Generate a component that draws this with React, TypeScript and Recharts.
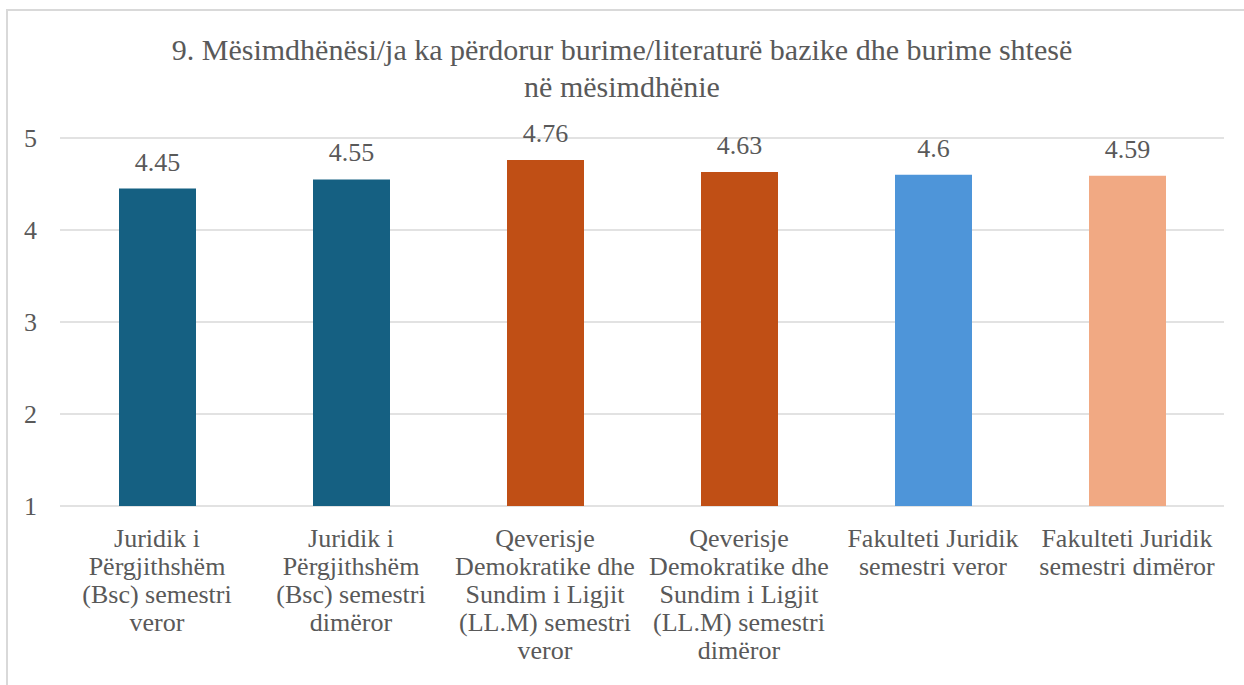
import React from 'react'
import {
  BarChart,
  Bar,
  XAxis,
  YAxis,
  CartesianGrid,
  Cell,
  LabelList,
} from 'recharts'

// category labels, split where the reference wraps them
const categories = [
  'Juridik i\nPërgjithshëm\n(Bsc) semestri\nveror',
  'Juridik i\nPërgjithshëm\n(Bsc) semestri\ndimëror',
  'Qeverisje\nDemokratike dhe\nSundim i Ligjit\n(LL.M) semestri\nveror',
  'Qeverisje\nDemokratike dhe\nSundim i Ligjit\n(LL.M) semestri\ndimëror',
  'Fakulteti Juridik\nsemestri veror',
  'Fakulteti Juridik\nsemestri dimëror',
]
const scores = [4.45, 4.55, 4.76, 4.63, 4.6, 4.59]
const barColors = ['#156082', '#156082', '#C04F15', '#C04F15', '#4E95D9', '#F1A983']
const yTicks = [1, 2, 3, 4, 5]
const titleLines = [
  '9. Mësimdhënësi/ja ka përdorur burime/literaturë bazike dhe burime shtesë',
  'në mësimdhënie',
]

const FONT = '"Liberation Serif", monospace'
const TEXT_COLOR = '#595959'

const data = categories.map((name, i) => ({ name, value: scores[i] }))

// multi-line category tick
const CategoryTick = ({ x, y, payload }: any) => {
  const lines = String(payload.value).split('\n')
  return (
    <text
      x={x}
      y={y + 41}
      textAnchor='middle'
      fill={TEXT_COLOR}
      style={{ fontSize: 26, fontFamily: FONT }}
    >
      {lines.map((line, i) => (
        <tspan key={i} x={x} dy={i === 0 ? 0 : 28}>
          {line}
        </tspan>
      ))}
    </text>
  )
}

const App = () => {
  return (
    <div
      style={{
        position: 'absolute',
        left: 0,
        top: 0,
        width: 1244,
        height: 685,
        background: '#fff',
        overflow: 'hidden',
      }}
    >
      {/* chart frame */}
      <div
        style={{
          position: 'absolute',
          left: 6,
          top: 9,
          width: 1300,
          height: 760,
          border: '2px solid #d9d9d9',
        }}
      />
      <div
        style={{
          position: 'absolute',
          left: 0,
          top: 31,
          width: 1244,
          textAlign: 'center',
          fontFamily: FONT,
          fontSize: 30,
          lineHeight: '37px',
          color: TEXT_COLOR,
        }}
      >
        {titleLines.map((line, i) => (
          <div key={i}>{line}</div>
        ))}
      </div>
      <div style={{ position: 'absolute', left: 0, top: 0 }}>
        <BarChart
          width={1244}
          height={685}
          data={data}
          margin={{ top: 138, right: 20, bottom: 0, left: 0 }}
        >
          <CartesianGrid vertical={false} stroke='#d9d9d9' strokeWidth={1.5} />
          <XAxis
            dataKey='name'
            interval={0}
            height={179}
            axisLine={false}
            tickLine={false}
            tickSize={0}
            tickMargin={0}
            tick={<CategoryTick />}
          />
          <YAxis
            domain={[1, 5]}
            ticks={yTicks}
            width={60}
            axisLine={false}
            tickLine={false}
            tickSize={0}
            tickMargin={23}
            tick={{ fill: TEXT_COLOR, fontSize: 26, fontFamily: FONT }}
          />
          <Bar dataKey='value' barSize={77} isAnimationActive={false}>
            {data.map((_, i) => (
              <Cell key={`cell-${i}`} fill={barColors[i]} />
            ))}
            <LabelList
              dataKey='value'
              position='top'
              offset={18}
              fill={TEXT_COLOR}
              fontSize={26}
              fontFamily={FONT}
            />
          </Bar>
        </BarChart>
      </div>
    </div>
  )
}

export default App
